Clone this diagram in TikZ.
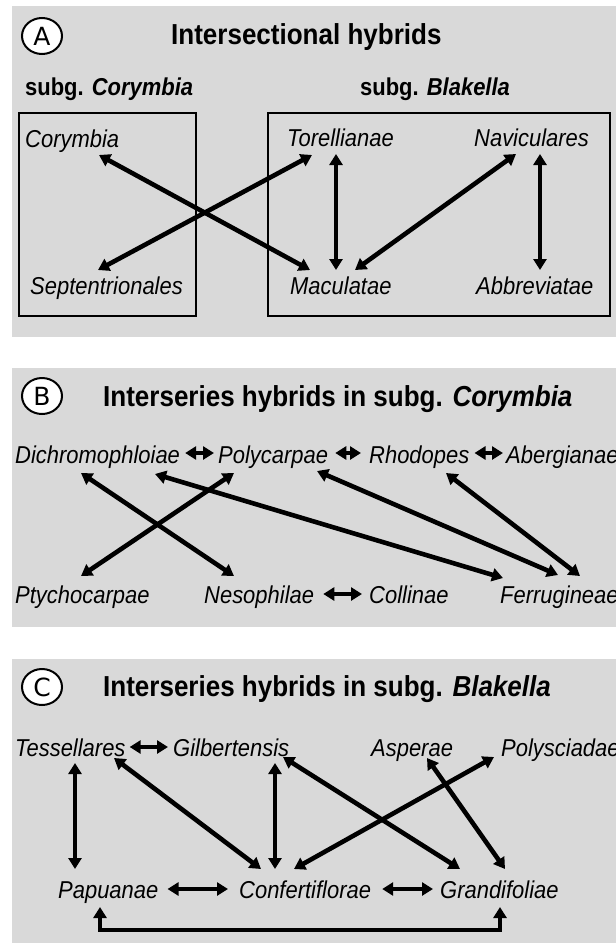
\documentclass[tikz,border=0pt]{standalone}
\usepackage{fontspec}
\setmainfont[FakeStretch=0.9]{Liberation Sans}
\newfontfamily\circfont{DejaVu Sans}
\usetikzlibrary{arrows.meta,shapes.geometric}
\definecolor{panelgray}{RGB}{217,217,217}
\begin{document}
\begin{tikzpicture}[x=1pt,y=-1pt,
  lbl/.style={anchor=base west,inner sep=0pt,font=\fontsize{24.4}{28}\selectfont\itshape},
  ttl/.style={anchor=base west,inner sep=0pt,font=\fontsize{28.9}{32}\selectfont\bfseries},
  subhead/.style={anchor=base west,inner sep=0pt,font=\fontsize{24.4}{28}\selectfont\bfseries},
  tag/.style={ellipse,draw,line width=2pt,fill=white,minimum width=40pt,minimum height=36pt,inner sep=0pt,font=\fontsize{25}{30}\selectfont\circfont},
  hyb/.style={line width=4.6pt,{Triangle[length=11pt,width=13pt]}-{Triangle[length=11pt,width=13pt]}},
  pan/.style={fill=panelgray},
  grp/.style={draw,line width=2.2pt}]
\useasboundingbox (0,0) rectangle (616,943);
% panels
\fill[pan] (12,6) rectangle (616,337);
\fill[pan] (12,368) rectangle (616,627);
\fill[pan] (12,659) rectangle (616,943);

% ---------------- Panel A
\node[tag] (tA) at (42,36) {A};
\node[ttl] (titA) at (171,44) {Intersectional hybrids};
\node[subhead] (sc) at (25,95) {subg. \textit{Corymbia}};
\node[subhead] (sb) at (360,95) {subg. \textit{Blakella}};
\draw[grp] (19,113) rectangle (196,316);
\draw[grp] (268,113) rectangle (610,316);
\node[lbl] (cor) at (25,147) {Corymbia};
\node[lbl] (sep) at (30,294) {Septentrionales};
\node[lbl] (tor) at (287,146) {Torellianae};
\node[lbl] (nav) at (474,146) {Naviculares};
\node[lbl] (mac) at (290,294) {Maculatae};
\node[lbl] (abb) at (476,294) {Abbreviatae};
\draw[hyb] ([shift={(74,8)}]cor.base west) -- ([shift={(20,-24)}]mac.base west);
\draw[hyb] ([shift={(68,-24)}]sep.base west) -- ([shift={(25,9)}]tor.base west);
\draw[hyb] ([shift={(49,8)}]tor.base west) -- ([shift={(46,-24)}]mac.base west);
\draw[hyb] ([shift={(42,8)}]nav.base west) -- ([shift={(65,-24)}]mac.base west);
\draw[hyb] ([shift={(66,8)}]nav.base west) -- ([shift={(64,-24)}]abb.base west);

% ---------------- Panel B
\node[tag] (tB) at (42,396) {B};
\node[ttl] (titB) at (103,406) {Interseries hybrids in subg. \textit{Corymbia}};
\node[lbl] (dic) at (15,463) {Dichromophloiae};
\node[lbl] (pol) at (218,463) {Polycarpae};
\node[lbl] (rho) at (369,463) {Rhodopes};
\node[lbl] (abe) at (506,463) {Abergianae};
\node[lbl] (pty) at (15,603) {Ptychocarpae};
\node[lbl] (nes) at (204,603) {Nesophilae};
\node[lbl] (col) at (369,603) {Collinae};
\node[lbl] (fer) at (500,603) {Ferrugineae};
\draw[hyb] ([shift={(5,-10)}]dic.base east) -- ([shift={(-4,-10)}]pol.base west);
\draw[hyb] ([shift={(7,-10)}]pol.base east) -- ([shift={(-8,-10)}]rho.base west);
\draw[hyb] ([shift={(5,-10)}]rho.base east) -- ([shift={(-3,-10)}]abe.base west);
\draw[hyb] ([shift={(9,-9)}]nes.base east) -- ([shift={(-7,-9)}]col.base west);
\draw[hyb] ([shift={(66,10)}]dic.base west) -- ([shift={(30,-27)}]nes.base west);
\draw[hyb] ([shift={(16,10)}]pol.base west) -- ([shift={(66,-27)}]pty.base west);
\draw[hyb] ([shift={(140,11)}]dic.base west) -- ([shift={(3,-25)}]fer.base west);
\draw[hyb] ([shift={(99,8)}]pol.base west) -- ([shift={(58,-28)}]fer.base west);
\draw[hyb] ([shift={(77,10)}]rho.base west) -- ([shift={(80,-27)}]fer.base west);

% ---------------- Panel C
\node[tag] (tC) at (42,687) {C};
\node[ttl] (titC) at (103,696) {Interseries hybrids in subg. \textit{Blakella}};
\node[lbl] (tes) at (15,756) {Tessellares};
\node[lbl] (gil) at (173,756) {Gilbertensis};
\node[lbl] (asp) at (371,756) {Asperae};
\node[lbl] (pls) at (501,756) {Polysciadae};
\node[lbl] (pap) at (58,898) {Papuanae};
\node[lbl] (con) at (239,898) {Confertiflorae};
\node[lbl] (gra) at (440,898) {Grandifoliae};
\draw[hyb] ([shift={(4,-9)}]tes.base east) -- ([shift={(-5,-9)}]gil.base west);
\draw[hyb] ([shift={(9,-9)}]pap.base east) -- ([shift={(-11,-9)}]con.base west);
\draw[hyb] ([shift={(11,-9)}]con.base east) -- ([shift={(-7,-9)}]gra.base west);
\draw[hyb] ([shift={(60,7)}]tes.base west) -- ([shift={(17,-29)}]pap.base west);
\draw[hyb] ([shift={(99,2)}]tes.base west) -- ([shift={(22,-29)}]con.base west);
\draw[hyb] ([shift={(102,7)}]gil.base west) -- ([shift={(36,-29)}]con.base west);
\draw[hyb] ([shift={(110,1)}]gil.base west) -- ([shift={(20,-29)}]gra.base west);
\draw[hyb] ([shift={(-7,1)}]pls.base west) -- ([shift={(55,-29)}]con.base west);
\draw[hyb] ([shift={(56,2)}]asp.base west) -- ([shift={(65,-29)}]gra.base west);
\draw[hyb] ([shift={(42,9)}]pap.base west) -- ++(0,23) -| ([shift={(60,9)}]gra.base west);
\end{tikzpicture}
\end{document}
